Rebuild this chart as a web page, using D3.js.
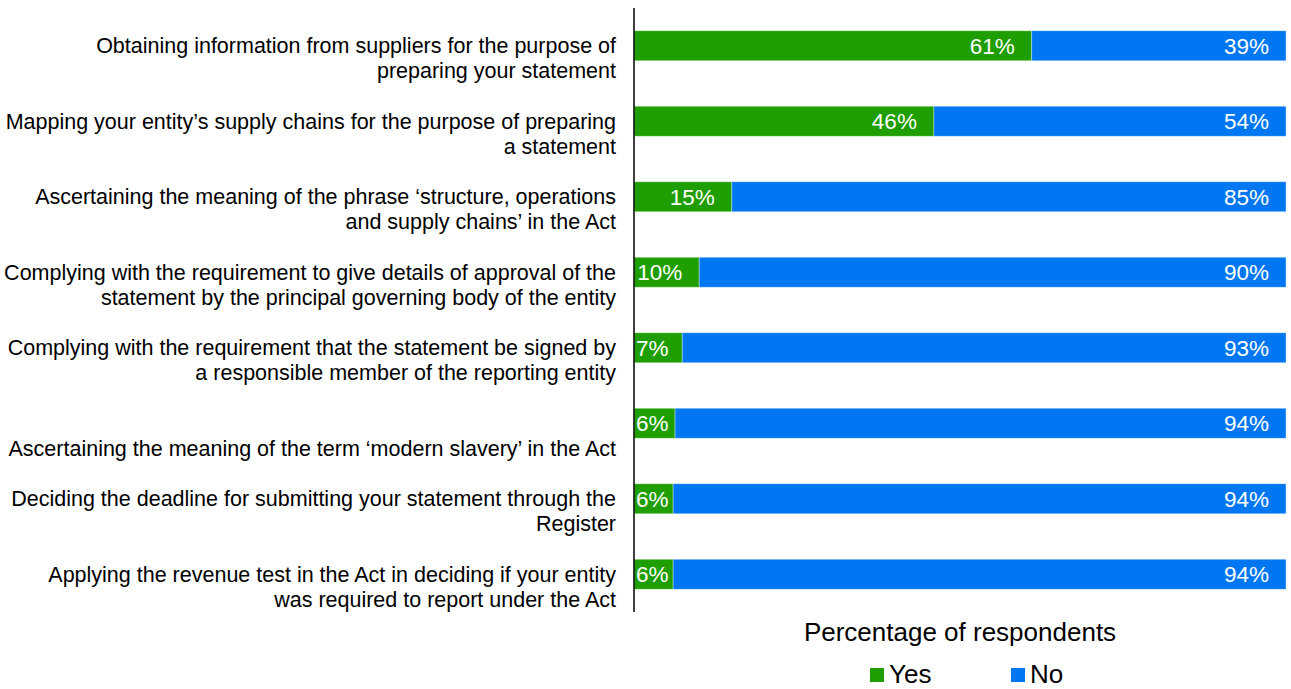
<!DOCTYPE html>
<html><head><meta charset="utf-8">
<script src="https://cdn.jsdelivr.net/npm/d3@7"></script>
<style>body{margin:0;background:#fff}svg{display:block}text{font-family:"Liberation Sans",Arial,sans-serif}</style>
</head><body>
<svg id="c" width="1291" height="689"></svg>
<script>
const categories = [
  ["Obtaining information from suppliers for the purpose of", "preparing your statement"],
  ["Mapping your entity\u2019s supply chains for the purpose of preparing", "a statement"],
  ["Ascertaining the meaning of the phrase \u2018structure, operations", "and supply chains\u2019 in the Act"],
  ["Complying with the requirement to give details of approval of the", "statement by the principal governing body of the entity"],
  ["Complying with the requirement that the statement be signed by", "a responsible member of the reporting entity"],
  ["", "Ascertaining the meaning of the term \u2018modern slavery\u2019 in the Act"],
  ["Deciding the deadline for submitting your statement through the", "Register"],
  ["Applying the revenue test in the Act in deciding if your entity", "was required to report under the Act"]
];
const yesValues = [61, 46, 15, 10, 7.4, 6.3, 6, 6];
const noValues = [39, 54, 85, 90, 92.6, 93.7, 94, 94];
const seriesNames = ["Yes", "No"];
const colors = ["#1f9e00", "#0077f2"];
const axisTitle = "Percentage of respondents";

const svg = d3.select("#c");
const x = d3.scaleLinear().domain([0, 100]).range([634, 1286]);
const y = d3.scaleBand().domain(d3.range(categories.length)).range([8, 612]).paddingInner(0.6026).paddingOuter(0.3013);

const rows = categories.map((c, i) => ({i, yes: yesValues[i], no: noValues[i]}));

const g = svg.append("g");
rows.forEach(r => {
  const segs = [{v: r.yes, x0: 0, c: colors[0]}, {v: r.no, x0: r.yes, c: colors[1]}];
  segs.forEach(s => {
    g.append("rect")
      .attr("x", x(s.x0)).attr("y", y(r.i))
      .attr("width", x(s.x0 + s.v) - x(s.x0)).attr("height", y.bandwidth())
      .attr("fill", s.c).attr("stroke", "#ffffff").attr("stroke-opacity", 0.45).attr("stroke-width", 0.8);
  });
  segs.forEach(s => {
    const end = x(s.x0 + s.v);
    const t = g.append("text")
      .attr("y", y(r.i) + y.bandwidth() / 2).attr("dy", "0.35em")
      .attr("fill", "#fff").attr("font-size", 22.5).attr("text-anchor", "end")
      .text(Math.round(s.v) + "%");
    const w = t.node().getComputedTextLength();
    let px = end - 17;
    if (px - w < x(s.x0) + 1) px = Math.min(end - 3, x(s.x0) + 2 + w);
    t.attr("x", px);
  });
});

// axis line
svg.append("line").attr("x1", 634).attr("x2", 634).attr("y1", 8).attr("y2", 612)
  .attr("stroke", "#111").attr("stroke-width", 1.6);

// category labels
categories.forEach((lines, i) => {
  const cy = y(i) + y.bandwidth() / 2;
  lines.forEach((ln, k) => {
    svg.append("text").attr("x", 616).attr("y", cy + k * 25).attr("dy", "0.35em")
      .attr("text-anchor", "end").attr("font-size", 21.5).attr("fill", "#000").text(ln);
  });
});

svg.append("text").attr("x", 960).attr("y", 641).attr("text-anchor", "middle")
  .attr("font-size", 26).attr("fill", "#000").text(axisTitle);

const leg = [{n: seriesNames[0], c: colors[0], x: 870}, {n: seriesNames[1], c: colors[1], x: 1011}];
leg.forEach(l => {
  svg.append("rect").attr("x", l.x).attr("y", 668).attr("width", 14).attr("height", 14).attr("fill", l.c);
  svg.append("text").attr("x", l.x + 19).attr("y", 683).attr("font-size", 26).attr("fill", "#000").text(l.n);
});
</script>
</body></html>
